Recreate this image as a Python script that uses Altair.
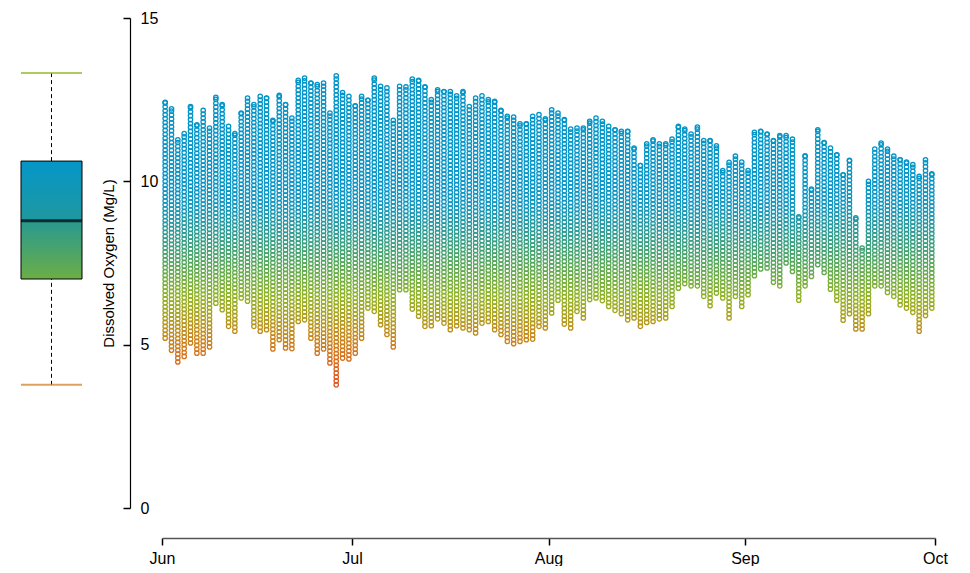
import altair as alt
import numpy as np
import pandas as pd

# Daily dissolved-oxygen range (mg/L), one entry per day from 1 June to 30 September
first_day = "2015-06-01"
daily_high = [
    12.42, 12.22, 11.27, 11.46, 12.29, 11.73, 12.17, 11.63, 12.57, 12.35,
    11.68, 11.46, 12.09, 12.55, 12.35, 12.60, 12.55, 11.87, 12.63, 12.35,
    11.94, 13.09, 13.16, 13.01, 12.96, 13.01, 12.09, 13.23, 12.72, 12.60,
    12.31, 12.60, 12.48, 13.16, 12.91, 12.86, 11.87, 12.91, 12.89, 13.13,
    13.09, 12.89, 12.50, 12.80, 12.75, 12.75, 12.62, 12.75, 12.29, 12.55,
    12.62, 12.50, 12.45, 12.17, 11.99, 11.97, 11.76, 11.76, 11.99, 12.04,
    11.91, 12.19, 12.09, 11.89, 11.60, 11.63, 11.63, 11.84, 11.94, 11.84,
    11.68, 11.58, 11.53, 11.53, 11.02, 10.48, 11.15, 11.27, 11.15, 11.15,
    11.29, 11.68, 11.60, 11.45, 11.66, 11.25, 11.25, 11.09, 10.33, 10.58,
    10.77, 10.59, 10.33, 11.50, 11.53, 11.45, 11.25, 11.40, 11.40, 11.29,
    8.91, 10.78, 9.76, 11.58, 11.19, 11.02, 10.81, 10.20, 10.64, 8.88,
    7.96, 10.00, 10.99, 11.17, 10.99, 10.77, 10.66, 10.59, 10.51, 10.15,
    10.66, 10.23,
]
daily_low = [
    5.20, 4.83, 4.47, 4.64, 5.05, 4.74, 4.74, 4.93, 6.27, 6.07,
    5.56, 5.41, 6.43, 6.33, 5.56, 5.41, 5.46, 4.87, 5.15, 4.90,
    4.88, 5.71, 5.76, 5.20, 4.74, 4.87, 4.44, 3.77, 4.59, 4.56,
    4.74, 5.20, 6.12, 6.02, 5.61, 5.31, 4.93, 6.68, 6.68, 6.09,
    5.87, 5.56, 5.58, 5.79, 5.66, 5.46, 5.58, 5.51, 5.46, 5.36,
    5.66, 5.71, 5.46, 5.31, 5.10, 5.03, 5.10, 5.15, 5.17, 5.56,
    5.51, 5.97, 6.36, 5.63, 5.51, 6.02, 5.82, 6.38, 6.43, 6.35,
    6.17, 6.05, 5.95, 5.76, 5.82, 5.56, 5.68, 5.71, 5.79, 5.82,
    6.17, 6.73, 6.87, 6.80, 6.80, 6.48, 6.19, 6.58, 6.43, 5.82,
    6.48, 6.17, 6.53, 7.11, 7.32, 7.35, 6.91, 6.80, 7.50, 7.24,
    6.36, 6.80, 7.09, 7.45, 7.21, 6.70, 6.36, 5.75, 5.95, 5.48,
    5.48, 5.95, 6.80, 6.80, 6.60, 6.48, 6.22, 6.12, 5.99, 5.41,
    5.89, 6.12,
]

# Summary of all readings for the box plot
box_stats = {"low": 3.77, "q1": 7.01, "median": 8.79, "q3": 10.62, "high": 13.32}

# Month ticks on the time axis
month_ticks = [(2015, 6), (2015, 7), (2015, 8), (2015, 9), (2015, 10)]

# Colour ramp from low to high oxygen
ramp_values = [3.8, 4.7, 5.4, 6.0, 6.5, 7.2, 7.9, 8.6, 9.3, 10.0, 13.5]
ramp_colors = ["#de5224", "#d6731b", "#c28c1a", "#a6a41a", "#90b322", "#66ab48",
               "#40a172", "#25999b", "#0f96bf", "#0395c8", "#0094c8"]

Y_MAX = 15
RING_STEP = 0.12  # vertical spacing of the rings that fill each day's range

# Each day's logged range is drawn as a column of open rings
rows = []
start = pd.Timestamp(first_day)
for i, (lo, hi) in enumerate(zip(daily_low, daily_high)):
    day = start + pd.Timedelta(days=i, hours=12)
    levels = list(np.arange(lo, hi, RING_STEP)) + [hi]
    for v in levels:
        rows.append({"time": day.strftime("%Y-%m-%dT%H:%M:%S"), "oxygen": round(float(v), 3)})
readings = pd.DataFrame(rows)

PLOT_W, PLOT_H = 773, 490
BOX_W = 61

color_scale = alt.Scale(domain=ramp_values, range=ramp_colors, interpolate="rgb")
y_scale = alt.Scale(domain=[0, Y_MAX], nice=False, zero=True)

points = alt.Chart(readings).mark_point(
    filled=False, size=19, strokeWidth=1.3, opacity=1
).encode(
    x=alt.X(
        "time:T",
        scale=alt.Scale(domain=[alt.DateTime(year=2015, month=6, date=1),
                                alt.DateTime(year=2015, month=10, date=1)]),
        axis=alt.Axis(
            title=None,
            values=[alt.DateTime(year=y, month=m, date=1) for y, m in month_ticks],
            format="%b",
            grid=False,
            offset=30,
            tickSize=7,
            tickWidth=1.5,
            tickColor="black",
            domainColor="#555555",
            domainWidth=1.5,
            labelPadding=5,
            labelFlush=False,
            labelFontSize=16,
            labelColor="black",
        ),
    ),
    y=alt.Y(
        "oxygen:Q",
        scale=y_scale,
        axis=alt.Axis(
            title="Dissolved Oxygen (Mg/L)",
            values=[0, 5, 10, 15],
            grid=False,
            offset=32,
            tickSize=7,
            tickWidth=1.5,
            tickColor="black",
            domainColor="black",
            domainWidth=1.2,
            labelAlign="left",
            labelBaseline="middle",
            labelPadding=-17,
            labelFontSize=16,
            labelColor="black",
            titleFontSize=15,
            titleFontWeight="normal",
            titleColor="black",
            titlePadding=6,
            minExtent=0,
        ),
    ),
    color=alt.Color("oxygen:Q", scale=color_scale, legend=None),
).properties(width=PLOT_W, height=PLOT_H)

# Box plot of all readings
box_df = pd.DataFrame([{"series": "DO", **box_stats}])
bx = alt.X("series:N", axis=None, scale=alt.Scale(paddingInner=0, paddingOuter=0))
by = alt.Scale(domain=[0, Y_MAX], nice=False, zero=True)
base = alt.Chart(box_df)

box_fill = alt.Gradient(
    gradient="linear",
    stops=[
        alt.GradientStop(color="#0496c8", offset=0),
        alt.GradientStop(color="#1f989f", offset=0.5),
        alt.GradientStop(color="#2a9a8e", offset=0.52),
        alt.GradientStop(color="#6cae46", offset=1),
    ],
    x1=0, x2=0, y1=0, y2=1,
)

upper_whisker = base.mark_rule(color="black", strokeDash=[4, 3], strokeWidth=1).encode(
    x=bx, y=alt.Y("q3:Q", scale=by, axis=None), y2="high:Q")
lower_whisker = base.mark_rule(color="black", strokeDash=[4, 3], strokeWidth=1).encode(
    x=bx, y=alt.Y("low:Q", scale=by, axis=None), y2="q1:Q")
box = base.mark_bar(fill=box_fill, stroke="black", strokeWidth=1).encode(
    x=bx, y=alt.Y("q3:Q", scale=by, axis=None), y2="q1:Q")
median = base.mark_tick(color="black", thickness=3, size=BOX_W).encode(
    x=bx, y=alt.Y("median:Q", scale=by, axis=None))
top_cap = base.mark_tick(color="#8db31c", thickness=2, size=BOX_W).encode(
    x=bx, y=alt.Y("high:Q", scale=by, axis=None))
bottom_cap = base.mark_tick(color="#cf7a18", thickness=2, size=BOX_W).encode(
    x=bx, y=alt.Y("low:Q", scale=by, axis=None))

boxplot = alt.layer(upper_whisker, lower_whisker, box, median, top_cap, bottom_cap).properties(
    width=BOX_W, height=PLOT_H)

chart = alt.hconcat(boxplot, points, spacing=18).resolve_scale(
    x="independent", y="independent", color="independent"
).properties(
    padding={"left": 20, "top": 10, "right": 0, "bottom": 0}
).configure(
    font="Liberation Sans"
).configure_view(stroke=None)

chart.save("out.html", embed_options={"renderer": "svg", "actions": False})
